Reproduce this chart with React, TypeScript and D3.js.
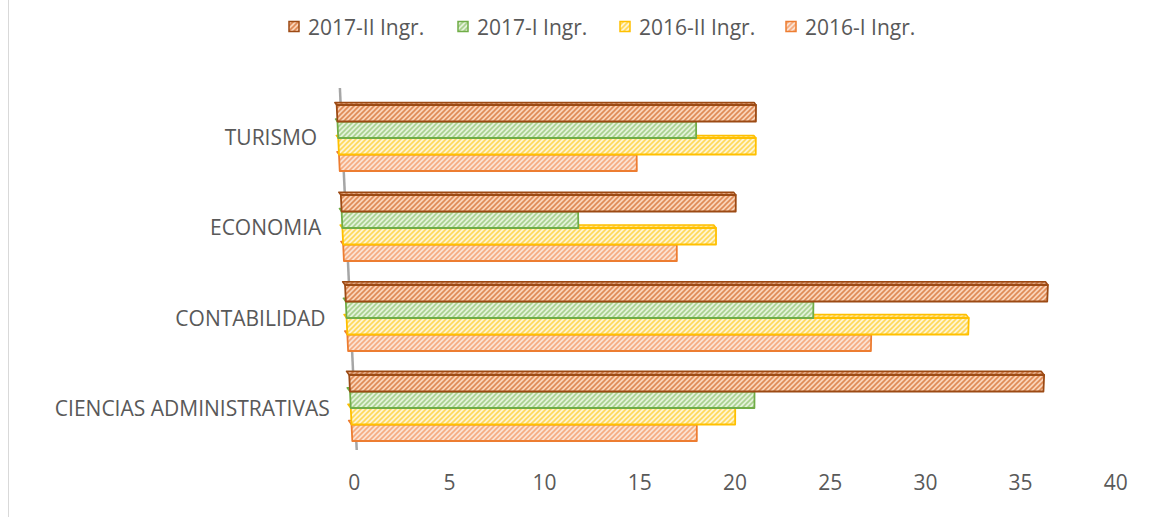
import React from 'react';
import * as d3 from 'd3';

// ---------- data ----------
const categories = ['TURISMO', 'ECONOMIA', 'CONTABILIDAD', 'CIENCIAS ADMINISTRATIVAS'];
const seriesNames = ['2017-II Ingr.', '2017-I Ingr.', '2016-II Ingr.', '2016-I Ingr.'];
const s2017II = [21, 20, 36, 36];
const s2017I = [18, 12, 24, 21];
const s2016II = [21, 19, 32, 20];
const s2016I = [15, 17, 27, 18];
const xTicks = [0, 5, 10, 15, 20, 25, 30, 35, 40];

const seriesValues = [s2017II, s2017I, s2016II, s2016I];
const seriesStyle = [
  { id: 'p0', border: '#9C4A14', bg: '#FAD3B8', stripe: '#DE8A55' },
  { id: 'p1', border: '#70AD47', bg: '#E4F2DA', stripe: '#A9D18E' },
  { id: 'p2', border: '#FFC000', bg: '#FFF5D2', stripe: '#FFD95A' },
  { id: 'p3', border: '#ED7D31', bg: '#FCE2D2', stripe: '#F5AC80' },
];

const W = 1174;
const H = 517;
const FONT = '"Open Sans", sans-serif';
const TEXT = '#595959';

export default function App() {
  const yBand = d3.scaleBand<string>().domain(categories).range([93, 453]).paddingInner(0.2667).paddingOuter(0.1333);
  const inner = d3.scaleBand<string>().domain(seriesNames).range([0, yBand.bandwidth()]);

  const xScale = d3.scaleLinear().domain([0, 40]).range([354.2, 354.2 + 40 * 19.04]);
  // perspective helpers (zero line drift & scale change with y)
  const x0 = d3.scaleLinear().domain([112, 482]).range([337, 354.2]);
  const kf = d3.scaleLinear().domain([112, 482]).range([19.95 / 19.04, 1]);
  const depth = d3.scaleLinear().domain([112, 448]).range([2.5, 4]);
  const px = (v: number, y: number) => x0(y) + (xScale(v) - xScale(0)) * kf(y);

  const bars: JSX.Element[] = [];
  categories.forEach((cat, ci) => {
    // draw bottom series first so upper bars cover lower top faces
    for (let si = seriesNames.length - 1; si >= 0; si--) {
      const v = seriesValues[si][ci];
      const yt = (yBand(cat) as number) + (inner(seriesNames[si]) as number);
      const yb = yt + inner.bandwidth();
      const st = seriesStyle[si];
      const d = depth(yt);
      const dx = -0.75 * d;
      const dy = -d;
      const front = [
        [px(0, yt), yt], [px(v, yt), yt], [px(v, yb), yb], [px(0, yb), yb],
      ];
      const top = [
        [px(0, yt), yt], [px(v, yt), yt], [px(v, yt) + dx, yt + dy], [px(0, yt) + dx, yt + dy],
      ];
      const pts = (a: number[][]) => a.map((p) => p.join(',')).join(' ');
      bars.push(
        <g key={cat + si}>
          <polygon points={pts(top)} fill={`url(#${st.id})`} stroke={st.border} strokeWidth={1.5} strokeLinejoin="round" />
          <polygon points={pts(top)} fill={st.border} opacity={0.3} />
          <polygon points={pts(front)} fill={`url(#${st.id})`} stroke={st.border} strokeWidth={1.8} strokeLinejoin="round" />
        </g>
      );
    }
  });

  const legendX = [289, 458, 620, 786];

  return (
    <svg width={W} height={H} style={{ position: 'absolute', left: 0, top: 0, background: '#fff' }} fontFamily={FONT}>
      <defs>
        {seriesStyle.map((s) => (
          <pattern key={s.id} id={s.id} patternUnits="userSpaceOnUse" width={5} height={5}>
            <rect width={5} height={5} fill={s.bg} />
            <path d="M-1,1 l2,-2 M0,5 l5,-5 M4,6 l2,-2" stroke={s.stripe} strokeWidth={1.6} />
          </pattern>
        ))}
      </defs>
      <rect x={0} y={0} width={W} height={H} fill="#fff" />
      <line x1={8.5} y1={0} x2={8.5} y2={H} stroke="#D9D9D9" strokeWidth={1} />

      {/* legend */}
      {seriesNames.map((n, i) => (
        <g key={n}>
          <rect x={legendX[i]} y={21.5} width={10} height={10} fill={`url(#${seriesStyle[i].id})`} stroke={seriesStyle[i].border} strokeWidth={1.5} />
          <text x={legendX[i] + 19} y={34.5} fontSize={21} fill={TEXT}>{n}</text>
        </g>
      ))}

      {/* axis (depth wall edge) */}
      <line x1={px(0, 88) + 4} y1={88} x2={px(0, 450) + 4} y2={450} stroke="#A6A6A6" strokeWidth={2.5} />

      {bars}

      {/* category labels */}
      {categories.map((c) => {
        const yc = (yBand(c) as number) + yBand.bandwidth() / 2;
        return (
          <text key={c} x={px(0, yc) - 21} y={yc + 7.5} fontSize={21} fill={TEXT} textAnchor="end">{c}</text>
        );
      })}

      {/* x tick labels */}
      {xTicks.map((t) => (
        <text key={t} x={px(t, 482)} y={489.5} fontSize={21} fill={TEXT} textAnchor="middle">{t}</text>
      ))}
    </svg>
  );
}
